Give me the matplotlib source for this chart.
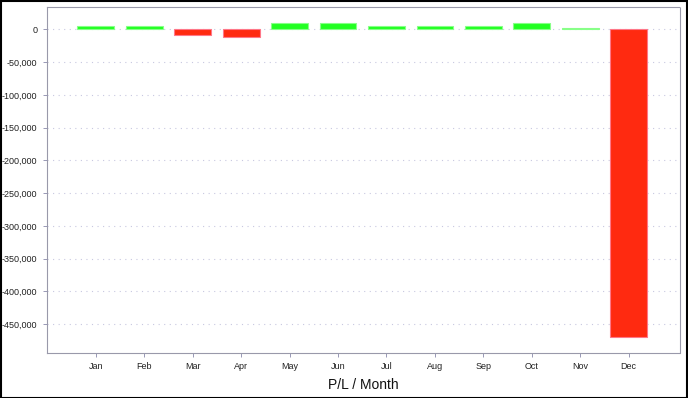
import matplotlib
matplotlib.use("Agg")
import matplotlib.pyplot as plt
from matplotlib.patches import Rectangle
from matplotlib.ticker import FuncFormatter

months = ["Jan", "Feb", "Mar", "Apr", "May", "Jun", "Jul", "Aug", "Sep", "Oct", "Nov", "Dec"]
pl = [5000, 5000, -9000, -12000, 9500, 10000, 5500, 5000, 5500, 9500, 1800, -470000]
yticks = [0, -50000, -100000, -150000, -200000, -250000, -300000, -350000, -400000, -450000]

plt.rcParams['font.family'] = ['Liberation Sans', 'DejaVu Sans']
fig = plt.figure(figsize=(6.88, 3.98), dpi=100)
W, H = 688, 398
ax = fig.add_axes([46.5 / W, 1 - 352.7 / H, (679.5 - 46.5) / W, (352.7 - 7.3) / H])

x = list(range(len(months)))
colors = ['#22ff22' if v >= 0 else '#ff2a10' for v in pl]
edges = ['#88ff88' if v >= 0 else '#ff7788' for v in pl]
ax.bar(x, pl, width=0.76, color=colors, edgecolor=edges, linewidth=0.8, zorder=3)

ax.set_xlim(-1.02, 12.05)
ax.set_ylim(-493700, 33600)
ax.set_yticks(yticks)
ax.yaxis.set_major_formatter(FuncFormatter(lambda v, p: f"{int(v):,}"))
ax.set_xticks(x)
ax.set_xticklabels(months)
ax.tick_params(axis='both', labelsize=6.5, colors='#8888aa', labelcolor='#222222', length=3, width=0.6)
ax.tick_params(axis='x', pad=4)
ax.grid(axis='y', linestyle=(0, (1, 4)), color='#c8c8e0', linewidth=0.8, zorder=0)
for s in ax.spines.values():
    s.set_color('#9999aa')
    s.set_linewidth(0.8)
for s in ['top', 'right']:
    ax.spines[s].set_linestyle((0, (2, 1)))
ax.set_xlabel("P/L / Month", fontsize=10, color='#111111', labelpad=5)

fig.patches.append(Rectangle((0.5 / W, 0.5 / H), 1 - 1.5 / W, 1 - 1.5 / H, transform=fig.transFigure,
                             fill=False, edgecolor='black', linewidth=1.5))
fig.savefig("out.png", dpi=100)
